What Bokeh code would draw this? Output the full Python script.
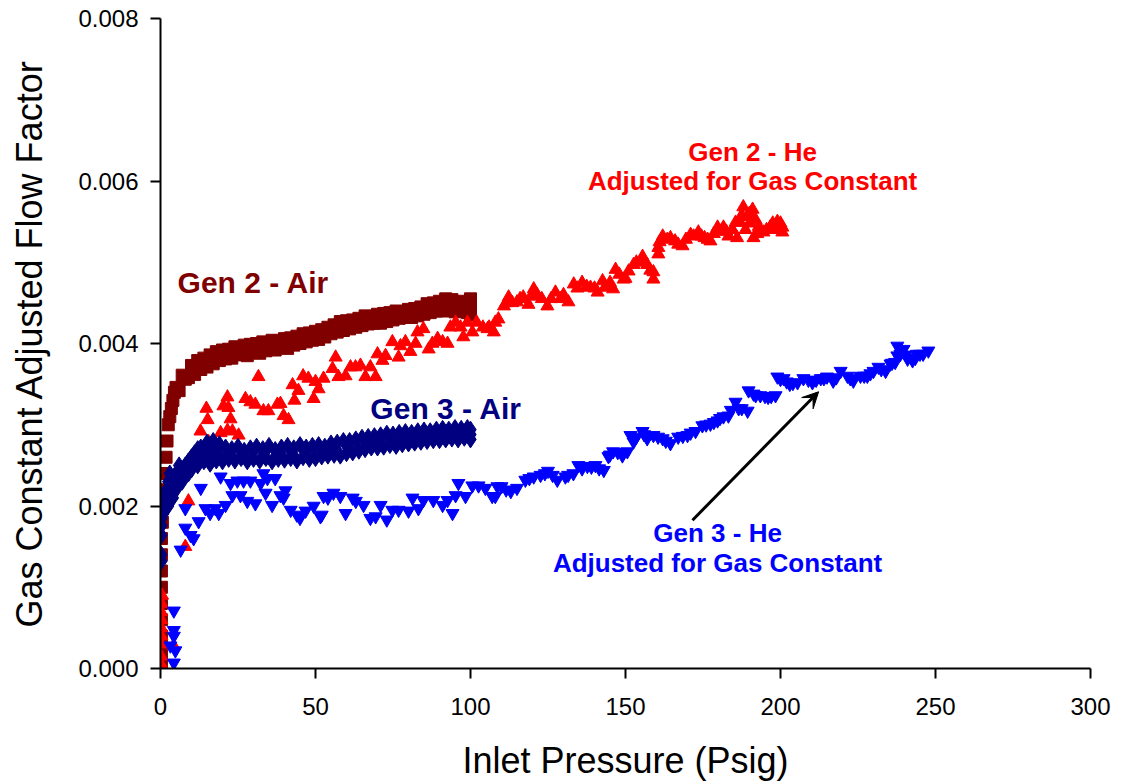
from bokeh.plotting import figure
from bokeh.models import Label, Arrow, VeeHead, FixedTicker, Range1d
from bokeh.embed import file_html
from bokeh.resources import INLINE

# ---------------- data ----------------
x_ticks = [0, 50, 100, 150, 200, 250, 300]
x_tick_labels = ["0", "50", "100", "150", "200", "250", "300"]
y_ticks = [0.0, 0.002, 0.004, 0.006, 0.008]
y_tick_labels = ["0.000", "0.002", "0.004", "0.006", "0.008"]

gen2_air_x = [0.3, 0.3, 0.3, 0.3, 0.3, 0.3, 0.3, 0.3, 0.3, 0.6, 0.9, 1.2, 1.5, 1.8, 2.1, 2.5, 3.0, 3.5, 4.0, 4.5] + \
    list(range(5, 101)) + [100, 100, 100]
gen2_air_y = [0.00005, 0.0002, 0.0004, 0.0006, 0.0008, 0.0010, 0.0012, 0.0014, 0.0016, 0.0018, 0.0020,
              0.0022, 0.0024, 0.0026, 0.0028, 0.0030, 0.0031, 0.0032, 0.0033, 0.0034,
              0.00346, 0.00342, 0.00361, 0.00356, 0.00358, 0.00373, 0.00362, 0.00379,
              0.00368, 0.00382, 0.00371, 0.00386, 0.00375, 0.00390, 0.00379, 0.00392,
              0.00381, 0.00393, 0.00382, 0.00396, 0.00386, 0.00389, 0.00398, 0.00385, 0.00399, 0.00390,
              0.00400, 0.00388, 0.00402, 0.00391, 0.00398, 0.00404, 0.00392, 0.00403, 0.00395, 0.00406,
              0.00394, 0.00407, 0.00398, 0.00409, 0.00400, 0.00412, 0.00402, 0.00413, 0.00404, 0.00415,
              0.00405, 0.00417, 0.00408, 0.00420, 0.00412, 0.00423, 0.00414, 0.00427, 0.00416, 0.00428,
              0.00418, 0.00429, 0.00420, 0.00431, 0.00422, 0.00434, 0.00424, 0.00432, 0.00425, 0.00436,
              0.00425, 0.00437, 0.00427, 0.00438, 0.00429, 0.00440, 0.00431, 0.00439, 0.00432, 0.00442,
              0.00432, 0.00443, 0.00434, 0.00445, 0.00436, 0.00449, 0.00438, 0.00450, 0.00440, 0.00452,
              0.00440, 0.00455, 0.00442, 0.00454, 0.00439, 0.00452, 0.00441, 0.00450, 0.00438, 0.00448,
              0.00442, 0.00455, 0.00435]

gen2_he_x = [0.2, 0.2, 0.3, 0.3, 0.2, 0.3, 0.2, 0.3, 0.5, 4.2, 8, 9, 12.9, 14.8, 15.2, 15.5, 19.4, 20.3, 21.6, 21.6,
             21.9, 22.6, 23.2, 25.2, 27.4, 29, 30.6, 31.6, 33.2, 34.8, 37.7, 38.7, 39.7, 41.3, 42.6, 43.2, 44.5,
             46, 47.7, 49.4, 50, 51, 52.6, 55.5, 56.5, 57.4, 59.7, 61.3, 62.9, 64.5, 66.1, 67.7, 69.4, 70, 71.6,
             72.6, 74.8, 76.8, 77.4, 79, 80.6, 82.3, 82.9, 84.8, 86.5, 87.7, 89.4, 91, 92.6, 93.5, 95.2, 96.8,
             97.7, 99, 100.6, 102, 104, 105.5, 106, 107.5, 108, 109, 110.8, 111.5, 112.3, 113.5, 115, 116, 117,
             118.7, 119.5, 120.4, 121.5, 123, 124.8, 126, 127.4, 129, 130, 131.6, 133.3, 134.5, 136, 137.5,
             138.7, 140, 141, 142.6, 143.5, 144.5, 145, 146, 146.8, 148, 149.4, 150, 151, 152.6, 153.5, 155.5,
             156, 157, 158, 159, 159, 160.6, 160.6, 161, 162, 163.5, 164.5, 166, 167, 168.4, 169.5, 171, 172,
             173.5, 174.5, 175.5, 176.5, 177.4, 178.5, 179.7, 180.5, 181.6, 182.5, 183.2, 184.5, 185.5, 186,
             187, 187.5, 188, 188.7, 189.2, 190, 190, 191, 191.3, 192, 192.5, 193, 194.5, 195.5, 196.8, 197.5,
             198, 199, 200, 200.6, 200.6]
gen2_he_y = [0.00005, 0.00015, 0.0003, 0.0004, 0.0005, 0.0006, 0.0007, 0.0008, 0.0009, 0.00028, 0.0015, 0.00206,
             0.00292, 0.0032, 0.00306, 0.00279, 0.0029, 0.00323, 0.00334, 0.00293, 0.00321, 0.00307, 0.00292,
             0.00287, 0.00332, 0.00328, 0.00325, 0.00359, 0.00317, 0.00317, 0.00325, 0.00326, 0.00311, 0.00306,
             0.00349, 0.0033, 0.00342, 0.0036, 0.00357, 0.00332, 0.00353, 0.00344, 0.00357, 0.00369, 0.00383,
             0.00359, 0.0036, 0.00371, 0.00371, 0.00373, 0.00359, 0.00371, 0.00359, 0.00387, 0.00379, 0.00385,
             0.00402, 0.00383, 0.00397, 0.00402, 0.0039, 0.004, 0.00414, 0.00418, 0.00393, 0.004, 0.00406,
             0.00402, 0.004, 0.0042, 0.00426, 0.0042, 0.00408, 0.00426, 0.00414, 0.00426, 0.0042, 0.00418,
             0.0042, 0.00414, 0.00426, 0.0043, 0.00446, 0.0045, 0.00457, 0.0045, 0.00451, 0.00455, 0.00457,
             0.00448, 0.00458, 0.00467, 0.0046, 0.00455, 0.00446, 0.00455, 0.00463, 0.00455, 0.0046, 0.00451,
             0.00473, 0.00468, 0.00475, 0.0047, 0.00469, 0.00468, 0.00463, 0.00477, 0.0047, 0.00469, 0.00475,
             0.00467, 0.00491, 0.00485, 0.00479, 0.0048, 0.00489, 0.00497, 0.005, 0.00507, 0.005, 0.00497,
             0.0049, 0.00488, 0.00479, 0.0051, 0.00518, 0.00525, 0.00532, 0.00528, 0.0053, 0.00526, 0.00522,
             0.0052, 0.00528, 0.00534, 0.00532, 0.00537, 0.00532, 0.0053, 0.00528, 0.00526, 0.00535, 0.00543,
             0.00538, 0.00543, 0.00538, 0.00532, 0.0054, 0.00549, 0.0053, 0.00549, 0.00558, 0.00568, 0.0054,
             0.00556, 0.0056, 0.00548, 0.00565, 0.0053, 0.00552, 0.00535, 0.00544, 0.00537, 0.0054, 0.00544,
             0.00548, 0.0054, 0.0055, 0.00548, 0.00543, 0.00537]

gen3_air_x = [0.3, 0.3, 0.3, 0.3, 0.3, 0.3, 0.8, 0.8, 1.2, 1.2, 2, 2, 2.5, 2.5, 3, 3, 4, 4, 5, 5, 6, 6, 7, 7,
              8, 8, 9, 9, 10, 10, 11, 11, 12, 12, 13, 13, 14, 14, 15, 15, 16, 16, 17, 17, 18, 18, 19, 19] + \
    list(range(20, 101)) + [100, 100]
gen3_air_y = [0.00132, 0.0014, 0.00164, 0.00176, 0.00185, 0.00207, 0.0019, 0.0020, 0.00195, 0.0021,
              0.0021, 0.0022, 0.0023, 0.0020, 0.0022, 0.0024, 0.0021, 0.0023, 0.0024, 0.0022,
              0.00235, 0.0025, 0.0023, 0.00245, 0.0025, 0.00238, 0.00255, 0.0024, 0.0026, 0.00245,
              0.00252, 0.00265, 0.0025, 0.0027, 0.00258, 0.00272, 0.00255, 0.0027, 0.0026, 0.00278,
              0.00252, 0.00275, 0.0026, 0.0028, 0.00256, 0.00272, 0.00262, 0.00276,
              0.00255, 0.00272, 0.00258, 0.00270, 0.00256, 0.00273, 0.00259, 0.00268, 0.00255, 0.00271,
              0.00258, 0.00273, 0.00256, 0.00270, 0.00259, 0.00274, 0.00255, 0.00269, 0.00258, 0.00272,
              0.00257, 0.00274, 0.00259, 0.00271, 0.00256, 0.00275, 0.00260, 0.00272, 0.00258, 0.00274,
              0.00259, 0.00275, 0.00261, 0.00273, 0.00262, 0.00277, 0.00263, 0.00278, 0.00262, 0.00280,
              0.00265, 0.00280, 0.00266, 0.00282, 0.00268, 0.00284, 0.00270, 0.00285, 0.00272, 0.00286,
              0.00272, 0.00287, 0.00273, 0.00289, 0.00275, 0.00288, 0.00274, 0.00290, 0.00276, 0.00291,
              0.00277, 0.00290, 0.00278, 0.00292, 0.00279, 0.00293, 0.00280, 0.00292, 0.00281, 0.00294,
              0.00281, 0.00295, 0.00282, 0.00294, 0.00283, 0.00296, 0.00282, 0.00295, 0.00284, 0.00296, 0.00288,
              0.00282, 0.00294]

gen3_he_x = [4.3, 4.8, 3.2, 4.3, 4.3, 4.3, 6.5, 8, 8, 9.7, 10.7, 12.3, 13, 14.5, 16, 17.7, 18.8, 19.4, 21, 22.6,
             23.2, 24.8, 25.8, 26.8, 28, 29, 30.6, 32.3, 33.2, 33.9, 34.5, 36, 37, 38.7, 39.7, 40.3, 42, 44, 45,
             46.8, 49.4, 51.6, 52, 52.6, 54, 55.8, 58, 59.7, 62, 63, 65.5, 67.7, 69.4, 71, 73, 74.8, 76.8, 80,
             81.3, 83.2, 84.8, 88, 91, 92.6, 94.2, 95.2, 96.1, 98.4, 100.6, 102.6, 104.8, 107, 108, 108.7, 110,
             111.5, 113, 115, 117.7, 119, 120.4, 122.6, 124, 125, 126.5, 128, 130.6, 131.5, 133.2, 134.8, 136,
             137.7, 139, 140.3, 141.5, 143, 144.5, 145, 146, 147.5, 149, 150.6, 151.6, 152.6, 153.5, 155.5, 156,
             157, 159, 160.5, 162, 163, 164.5, 167, 168.5, 170, 171, 172.6, 174.8, 176, 177.4, 178.5, 179.7,
             180.5, 181.6, 183.2, 184, 185.5, 186.5, 187.5, 189.4, 189.7, 191.3, 192, 193.5, 195, 196, 197,
             198.4, 199, 200, 201, 202, 203, 204, 205.5, 207.4, 209, 210.3, 211.5, 213, 214, 215, 217, 218,
             219.4, 221.6, 222.5, 223.5, 225.8, 227, 228, 229, 230, 231.6, 232.5, 233.9, 235.5, 236, 237,
             237.7, 237.7, 238.7, 239.7, 240.5, 241, 242.6, 243.5, 244, 245, 246, 247.7]
gen3_he_y = [0.00007, 0.00022, 0.00028, 0.0004, 0.00047, 0.00071, 0.00146, 0.00173, 0.00197, 0.00164, 0.0016,
             0.00181, 0.00222, 0.00197, 0.00191, 0.00197, 0.00191, 0.00236, 0.00201, 0.00228, 0.00213, 0.00231,
             0.00213, 0.00231, 0.00206, 0.00231, 0.00203, 0.00228, 0.0024, 0.00216, 0.00234, 0.00201, 0.00234,
             0.00213, 0.0021, 0.00219, 0.00195, 0.00189, 0.00185, 0.00194, 0.002, 0.00187, 0.00189, 0.00212,
             0.0021, 0.00216, 0.00212, 0.00191, 0.0021, 0.00206, 0.00201, 0.00185, 0.00187, 0.00201, 0.00183,
             0.00195, 0.00195, 0.00194, 0.0021, 0.00197, 0.00207, 0.00207, 0.00201, 0.00207, 0.00191, 0.00213,
             0.00228, 0.00212, 0.00225, 0.00225, 0.00222, 0.00212, 0.00212, 0.00224, 0.00224, 0.0022, 0.00218,
             0.00222, 0.00232, 0.00234, 0.00236, 0.00238, 0.0024, 0.00243, 0.00238, 0.00232, 0.00236, 0.00238,
             0.0024, 0.0025, 0.00246, 0.00249, 0.00248, 0.0025, 0.00246, 0.00244, 0.00261, 0.00263, 0.00267,
             0.00266, 0.00262, 0.00267, 0.00287, 0.00279, 0.00285, 0.00292, 0.00288, 0.00283, 0.00287, 0.00285,
             0.00283, 0.0028, 0.00277, 0.00285, 0.00286, 0.00287, 0.0029, 0.00292, 0.00299, 0.003, 0.00301,
             0.00303, 0.00305, 0.00308, 0.0031, 0.00311, 0.00318, 0.00328, 0.0032, 0.0032, 0.00317, 0.00342,
             0.00338, 0.00336, 0.00336, 0.00335, 0.00334, 0.00335, 0.00336, 0.00359, 0.00356, 0.00357, 0.00353,
             0.0035, 0.00351, 0.00352, 0.00357, 0.00355, 0.00352, 0.00355, 0.00357, 0.00357, 0.00359, 0.00354,
             0.00358, 0.00366, 0.0036, 0.00357, 0.00354, 0.0036, 0.0036, 0.0036, 0.00363, 0.00366, 0.00371,
             0.00368, 0.00366, 0.00375, 0.00376, 0.00377, 0.00397, 0.00385, 0.00387, 0.00393, 0.00386, 0.00381,
             0.00379, 0.00382, 0.00387, 0.00387, 0.00387, 0.00391]

# ---------------- figure ----------------
FONT = "Liberation Sans"
p = figure(width=1114, height=783, output_backend="svg", toolbar_location=None,
           x_range=Range1d(0, 300), y_range=Range1d(0, 0.008),
           min_border_left=160, min_border_right=24, min_border_top=18, min_border_bottom=112)
p.outline_line_color = None
p.grid.visible = False
p.background_fill_color = "white"

for ax in (p.xaxis[0], p.yaxis[0]):
    ax.axis_line_width = 2
    ax.axis_line_color = "black"
    ax.major_tick_line_width = 2
    ax.major_tick_out = 10
    ax.major_tick_in = 0
    ax.minor_tick_out = 0
    ax.minor_tick_in = 0
    ax.major_label_text_font = FONT
    ax.major_label_text_font_size = "24px"
    ax.major_label_text_color = "black"
    ax.axis_label_text_font = FONT
    ax.axis_label_text_font_size = "36px"
    ax.axis_label_text_font_style = "normal"
    ax.axis_label_text_color = "black"

p.xaxis.ticker = FixedTicker(ticks=x_ticks)
p.xaxis.major_label_overrides = {t: l for t, l in zip(x_ticks, x_tick_labels)}
p.yaxis.ticker = FixedTicker(ticks=y_ticks)
p.yaxis.major_label_overrides = {t: l for t, l in zip(y_ticks, y_tick_labels)}
p.xaxis.axis_label = "Inlet Pressure (Psig)"
p.yaxis.axis_label = "Gas Constant Adjusted Flow Factor"
p.xaxis.major_label_standoff = 19
p.xaxis.axis_label_standoff = 22
p.yaxis.major_label_standoff = 12
p.yaxis.axis_label_standoff = 25

# ---------------- series ----------------
p.scatter(gen2_air_x, gen2_air_y, marker="square", size=12, fill_color="#800000", line_color="#800000")
p.scatter(gen2_he_x, gen2_he_y, marker="triangle", size=13, fill_color="#FF0000", line_color="#FF0000")
p.scatter(gen3_he_x, gen3_he_y, marker="inverted_triangle", size=13, fill_color="#0000FF", line_color="#0000FF")
p.scatter(gen3_air_x, gen3_air_y, marker="diamond", size=17, fill_color="#000080", line_color="#000080")

# ---------------- annotations ----------------
def lab(x, y, text, color, size, align):
    p.add_layout(Label(x=x, y=y, text=text, text_color=color, text_font=FONT,
                       text_font_size=size, text_font_style="bold",
                       text_align=align, text_baseline="middle"))

lab(5.5, 0.00475, "Gen 2 - Air", "#800000", "30px", "left")
lab(67.7, 0.00320, "Gen 3 - Air", "#000080", "30px", "left")
lab(191, 0.00636, "Gen 2 - He", "#FF0000", "26px", "center")
lab(191, 0.00600, "Adjusted for Gas Constant", "#FF0000", "26px", "center")
lab(179.7, 0.00167, "Gen 3 - He", "#0000FF", "26px", "center")
lab(179.7, 0.00130, "Adjusted for Gas Constant", "#0000FF", "26px", "center")

p.add_layout(Arrow(x_start=171.6, y_start=0.001825, x_end=212.3, y_end=0.003406,
                   line_color="black", line_width=3,
                   end=VeeHead(size=16, fill_color="black", line_color="black")))

open("out.html", "w").write(file_html(p, INLINE))
